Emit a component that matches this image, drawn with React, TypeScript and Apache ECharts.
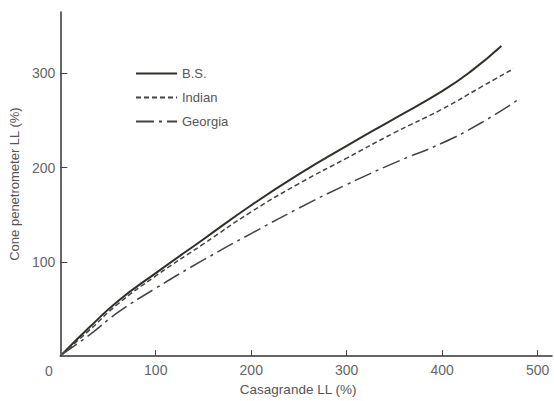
import React, { useEffect, useRef } from "react";
import * as echarts from "echarts";

const bsX = [2, 30, 60, 100, 150, 200, 250, 300, 350, 400, 430, 462];
const bsY = [2, 30, 58, 88, 124, 160, 193, 223, 252, 281, 302, 329];
const indianX = [2, 30, 60, 100, 150, 200, 250, 300, 350, 400, 440, 475];
const indianY = [2, 27, 55, 85, 119, 153, 183, 210, 237, 262, 285, 305];
const georgiaX = [2, 30, 60, 100, 150, 200, 250, 300, 350, 400, 440, 478];
const georgiaY = [2, 22, 46, 72, 102, 130, 157, 182, 205, 226, 247, 271];
const xTicks = [100, 200, 300, 400, 500];
const yTicks = [100, 200, 300];

const pairs = (xs: number[], ys: number[]) => xs.map((x, i) => [x, ys[i]]);

export default function App() {
  const ref = useRef<HTMLDivElement>(null);
  useEffect(() => {
    if (!ref.current) return;
    const chart = echarts.init(ref.current, undefined, { renderer: "svg" });
    const font = "'Liberation Sans', Arial, sans-serif";
    const lineColor = "#2f3129";
    chart.setOption({
      animation: false,
      backgroundColor: "#ffffff",
      grid: { left: 58, right: 2, top: 12, bottom: 39, containLabel: false },
      legend: {
        orient: "vertical",
        left: 135,
        top: 67,
        padding: 0,
        itemWidth: 41,
        itemHeight: 12,
        itemGap: 11,
        itemStyle: { opacity: 0 },
        textStyle: { color: "#555", fontSize: 13, fontFamily: font },
        data: ["B.S.", "Indian", "Georgia"],
      },
      xAxis: {
        type: "value",
        min: 0,
        max: 515,
        interval: 100,
        name: "Casagrande LL (%)",
        nameLocation: "middle",
        nameGap: 22,
        nameTextStyle: { color: "#555", fontSize: 13.5, fontFamily: font, padding: [0, 16, 0, 0] },
        axisLine: { show: true, lineStyle: { color: "#333", width: 1.5 } },
        axisTick: { show: true, inside: true, length: 6, customValues: xTicks, lineStyle: { color: "#444" } },
        axisLabel: { customValues: xTicks, color: "#666", fontSize: 14, fontFamily: font, margin: 7 },
        splitLine: { show: false },
      },
      yAxis: {
        type: "value",
        min: 0,
        max: 365,
        interval: 100,
        name: "Cone penetrometer LL (%)",
        nameLocation: "middle",
        nameGap: 35,
        nameTextStyle: { color: "#555", fontSize: 13, fontFamily: font },
        axisLine: { show: true, lineStyle: { color: "#333", width: 1.5 } },
        axisTick: { show: true, inside: true, length: 7, customValues: yTicks, lineStyle: { color: "#444" } },
        axisLabel: { customValues: yTicks, color: "#666", fontSize: 14, fontFamily: font, margin: 5 },
        splitLine: { show: false },
      },
      graphic: [
        {
          type: "text",
          left: 45,
          top: 364,
          style: { text: "0", fill: "#666", fontSize: 14, fontFamily: font },
        },
      ],
      series: [
        {
          name: "B.S.",
          type: "line",
          smooth: 0.5,
          symbol: "none",
          data: pairs(bsX, bsY),
          lineStyle: { color: lineColor, width: 2 },
          itemStyle: { color: lineColor },
        },
        {
          name: "Indian",
          type: "line",
          smooth: 0.5,
          symbol: "none",
          data: pairs(indianX, indianY),
          lineStyle: { color: "#444", width: 1.5, type: [5, 3] },
          itemStyle: { color: "#444" },
        },
        {
          name: "Georgia",
          type: "line",
          smooth: 0.5,
          symbol: "none",
          data: pairs(georgiaX, georgiaY),
          lineStyle: { color: "#444", width: 1.5, type: [18, 5, 3, 5] },
          itemStyle: { color: "#444" },
        },
      ],
    });
    return () => chart.dispose();
  }, []);
  return <div ref={ref} style={{ width: 554, height: 401, position: "absolute", left: 0, top: 0 }} />;
}
